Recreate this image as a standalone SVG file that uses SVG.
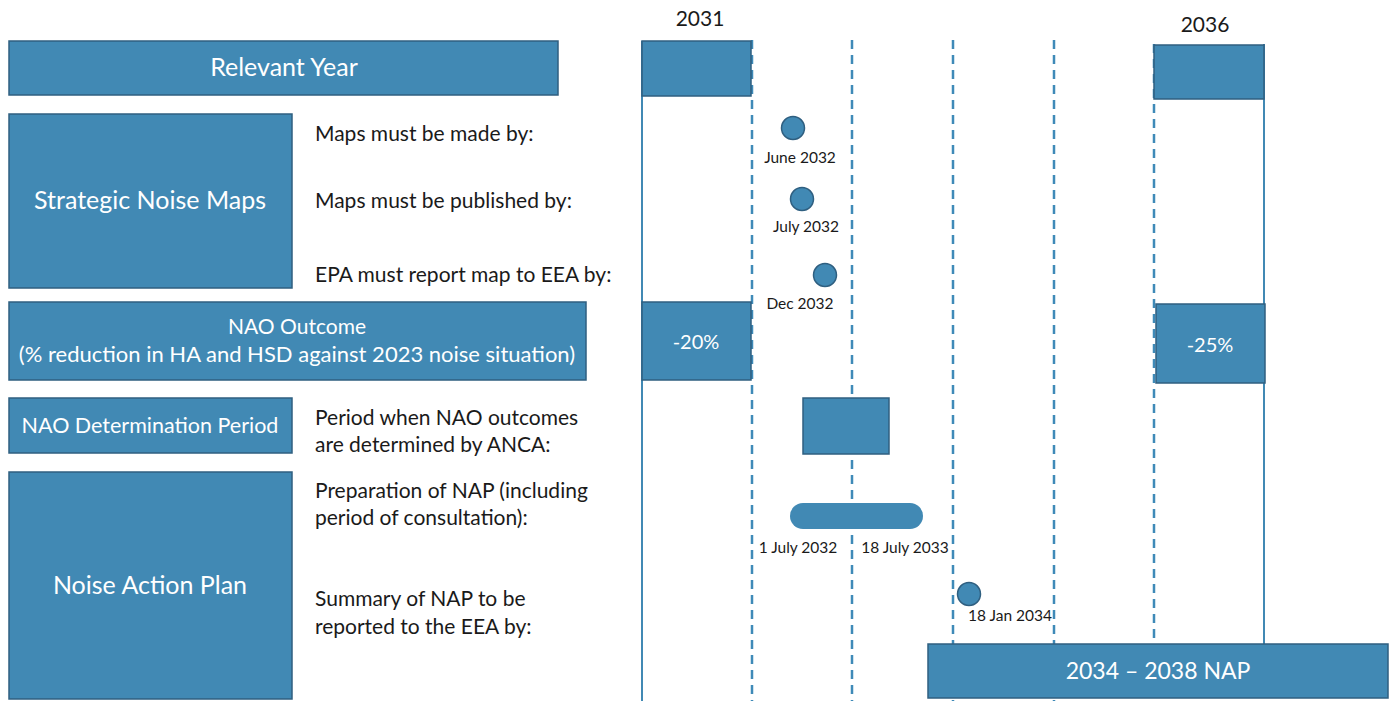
<svg xmlns="http://www.w3.org/2000/svg" width="1394" height="701" viewBox="0 0 1394 701">
<style>
.box{fill:#4189b4;stroke:#2f5f80;stroke-width:1.5}
.wt{fill:#ffffff;font-family:Lato,"Open Sans",sans-serif;text-anchor:middle}
.bt{fill:#1a1a1a;font-family:Lato,"Open Sans",sans-serif;font-size:21px}
.sm{fill:#1a1a1a;font-family:Lato,"Open Sans",sans-serif;font-size:15.5px;text-anchor:middle}
.dash{stroke:#3f8ab8;stroke-width:2.5;stroke-dasharray:9 6;fill:none}
.solid{stroke:#4189b4;stroke-width:2;fill:none}
.dot{fill:#4189b4;stroke:#2f5f80;stroke-width:1.5}
</style>
<rect width="1394" height="701" fill="#ffffff"/>
<g id="connectors">
<line class="solid" x1="642" y1="41" x2="642" y2="701"/>
<line class="solid" x1="1264" y1="44" x2="1264" y2="644"/>
<line class="dash" x1="752" y1="40" x2="752" y2="701"/>
<line class="dash" x1="852" y1="40" x2="852" y2="701"/>
<line class="dash" x1="953" y1="40" x2="953" y2="701"/>
<line class="dash" x1="1054" y1="40" x2="1054" y2="701"/>
<line class="dash" x1="1154" y1="44" x2="1154" y2="701"/>
</g>
<g id="year-2031"><text x="700" y="26" class="bt" text-anchor="middle" font-size="22.5">2031</text></g>
<g id="year-2036"><text x="1205" y="32" class="bt" text-anchor="middle" font-size="22.5">2036</text></g>
<g id="relevant-year"><rect class="box" x="9" y="41" width="549" height="54"/><text x="284" y="76" class="wt" font-size="25">Relevant Year</text></g>
<g id="rel-2031"><rect class="box" x="642" y="41" width="109" height="55"/></g>
<g id="rel-2036"><rect class="box" x="1154" y="45" width="110" height="54"/></g>
<g id="strategic-noise-maps"><rect class="box" x="9" y="114" width="283" height="174"/><text x="150" y="209" class="wt" font-size="25">Strategic Noise Maps</text></g>
<g id="lbl-made"><text x="315" y="141" class="bt">Maps must be made by:</text></g>
<g id="lbl-published"><text x="315" y="208" class="bt">Maps must be published by:</text></g>
<g id="lbl-report"><text x="315" y="282" class="bt">EPA must report map to EEA by:</text></g>
<g id="m-june"><circle class="dot" cx="793" cy="128" r="11.5"/><text x="800" y="163" class="sm">June 2032</text></g>
<g id="m-july"><circle class="dot" cx="802" cy="199" r="11.5"/><text x="806" y="232" class="sm">July 2032</text></g>
<g id="m-dec"><circle class="dot" cx="825" cy="275" r="11.5"/><text x="800" y="309" class="sm">Dec 2032</text></g>
<g id="nao-outcome"><rect class="box" x="9" y="302" width="577" height="78"/><text x="297" y="334" class="wt" font-size="21">NAO Outcome</text><text x="297" y="362" class="wt" font-size="22">(% reduction in HA and HSD against 2023 noise situation)</text></g>
<g id="out-2031"><rect class="box" x="642" y="302" width="109" height="78"/><text x="696" y="349" class="wt" font-size="20">-20%</text></g>
<g id="out-2036"><rect class="box" x="1156" y="304" width="109" height="79"/><text x="1210" y="352" class="wt" font-size="20">-25%</text></g>
<g id="nao-determination"><rect class="box" x="9" y="398" width="283" height="55"/><text x="150" y="433" class="wt" font-size="21.5">NAO Determination Period</text></g>
<g id="lbl-determined"><text x="315" y="425" class="bt">Period when NAO outcomes</text><text x="315" y="452" class="bt">are determined by ANCA:</text></g>
<g id="det-period"><rect class="box" x="803" y="398" width="86" height="56"/></g>
<g id="noise-action-plan"><rect class="box" x="9" y="472" width="283" height="227"/><text x="150" y="594" class="wt" font-size="25">Noise Action Plan</text></g>
<g id="lbl-prep"><text x="315" y="498" class="bt">Preparation of NAP (including</text><text x="315" y="525" class="bt">period of consultation):</text></g>
<g id="prep-bar"><rect x="790" y="503" width="133" height="26" rx="13" fill="#4189b4"/><text x="798" y="553" class="sm">1 July 2032</text><text x="905" y="553" class="sm">18 July 2033</text></g>
<g id="lbl-summary"><text x="315" y="606" class="bt">Summary of NAP to be</text><text x="315" y="634" class="bt">reported to the EEA by:</text></g>
<g id="m-jan"><circle class="dot" cx="969" cy="594" r="11.5"/><text x="1010" y="621" class="sm">18 Jan 2034</text></g>
<g id="nap-2034"><rect class="box" x="928" y="644" width="460" height="54"/><text x="1158" y="679" class="wt" font-size="23">2034 – 2038 NAP</text></g>
</svg>
